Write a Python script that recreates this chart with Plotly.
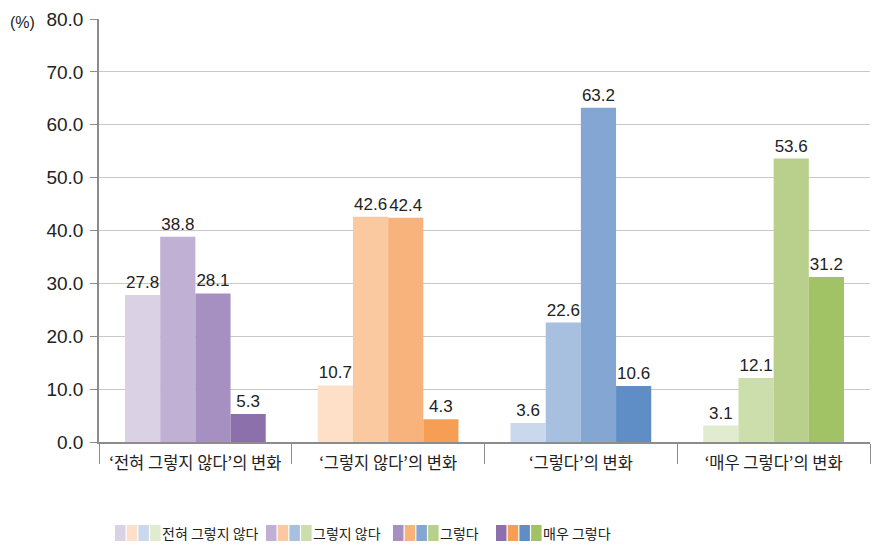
import plotly.graph_objects as go

# categories (x axis) and series
categories = [
    "‘전혀 그렇지 않다’의 변화",
    "‘그렇지 않다’의 변화",
    "‘그렇다’의 변화",
    "‘매우 그렇다’의 변화",
]
series_names = ["전혀 그렇지 않다", "그렇지 않다", "그렇다", "매우 그렇다"]

# values per series, one per category
s_never = [27.8, 10.7, 3.6, 3.1]
s_not = [38.8, 42.6, 22.6, 12.1]
s_yes = [28.1, 42.4, 63.2, 53.6]
s_very = [5.3, 4.3, 10.6, 31.2]
series_values = [s_never, s_not, s_yes, s_very]

y_ticks = [0, 10, 20, 30, 40, 50, 60, 70, 80]

# colour per series (rows) for each category group (columns)
purple = ["#DAD1E5", "#C0B0D4", "#A590C1", "#8B70AC"]
orange = ["#FEDFC8", "#FBC9A0", "#F8B37D", "#F79E55"]
blue = ["#C9D8EC", "#A8C0E0", "#84A6D3", "#5F8DC5"]
green = ["#E1EBCF", "#CCDEAB", "#B8D08B", "#A2C266"]
group_colors = [purple, orange, blue, green]

FONT = "Liberation Sans, Noto Sans CJK KR, sans-serif"
KFONT = "Noto Sans CJK KR, sans-serif"

# the page body has an 8px margin, so the figure is shifted by that much
OFF = 8
L, R, T, B = 99 - OFF, 14, 19 - OFF, 106
W, H = 884 - OFF, 548 - OFF
plot_w = W - L - R
plot_h = H - T - B
X0, Y0 = 99, 442  # page pixel of plot's left edge / zero line


def px_x(px):
    return (px - X0) / plot_w


def px_y(py):
    return (Y0 - py) / plot_h


fig = go.Figure()
for i, (name, vals) in enumerate(zip(series_names, series_values)):
    fig.add_trace(go.Bar(
        x=categories,
        y=vals,
        name=name,
        marker_color=[g[i] for g in group_colors],
        marker_line_width=0,
        text=[f"{v:.1f}" for v in vals],
        textposition="outside",
        textfont=dict(family=FONT, size=17, color="#222"),
        cliponaxis=False,
        showlegend=False,
    ))

fig.update_layout(
    barmode="group",
    bargap=0.27,
    bargroupgap=0,
    width=W,
    height=H,
    margin=dict(l=L, r=R, t=T, b=B),
    plot_bgcolor="white",
    paper_bgcolor="white",
    font=dict(family=FONT, size=17, color="#222"),
    xaxis=dict(
        automargin=False,
        showline=True, linecolor="#8c8c8c", linewidth=1.5,
        ticks="outside", tickson="boundaries", ticklen=20, tickcolor="#8c8c8c",
        ticklabelstandoff=5,
        tickfont=dict(family=KFONT, size=16.5, color="#222"),
        showgrid=False,
    ),
    yaxis=dict(
        automargin=False,
        range=[0, 80], tickvals=y_ticks,
        ticktext=[f"{t:.1f}" for t in y_ticks],
        showline=True, linecolor="#8c8c8c", linewidth=1.5,
        ticks="outside", ticklen=7, tickcolor="#8c8c8c",
        ticklabelstandoff=3,
        showgrid=True, gridcolor="#c8c8c8", gridwidth=1.2,
        tickfont=dict(family=FONT, size=19, color="#222"),
        zeroline=False,
    ),
)

fig.add_annotation(
    text="(%)", xref="paper", yref="paper", x=px_x(22), y=px_y(22),
    xanchor="center", yanchor="middle", showarrow=False,
    font=dict(family=FONT, size=16, color="#222"),
)

# custom legend: four swatches (one per group colour) for each series
legend_x = [115, 266, 393, 496]
sw_w, sw_h, sw_gap = 10.5, 16, 1.2
for i, name in enumerate(series_names):
    x0 = legend_x[i]
    for j, g in enumerate(group_colors):
        sx = x0 + j * (sw_w + sw_gap)
        fig.add_shape(
            type="rect", xref="paper", yref="paper",
            x0=px_x(sx), x1=px_x(sx + sw_w),
            y0=px_y(541), y1=px_y(525),
            fillcolor=g[i], line_width=0,
        )
    tx = x0 + 4 * (sw_w + sw_gap) - 2
    fig.add_annotation(
        text=name, xref="paper", yref="paper",
        x=px_x(tx), y=px_y(533),
        xanchor="left", yanchor="middle", showarrow=False,
        font=dict(family=KFONT, size=14, color="#222"),
    )

fig.write_html("out.html")
